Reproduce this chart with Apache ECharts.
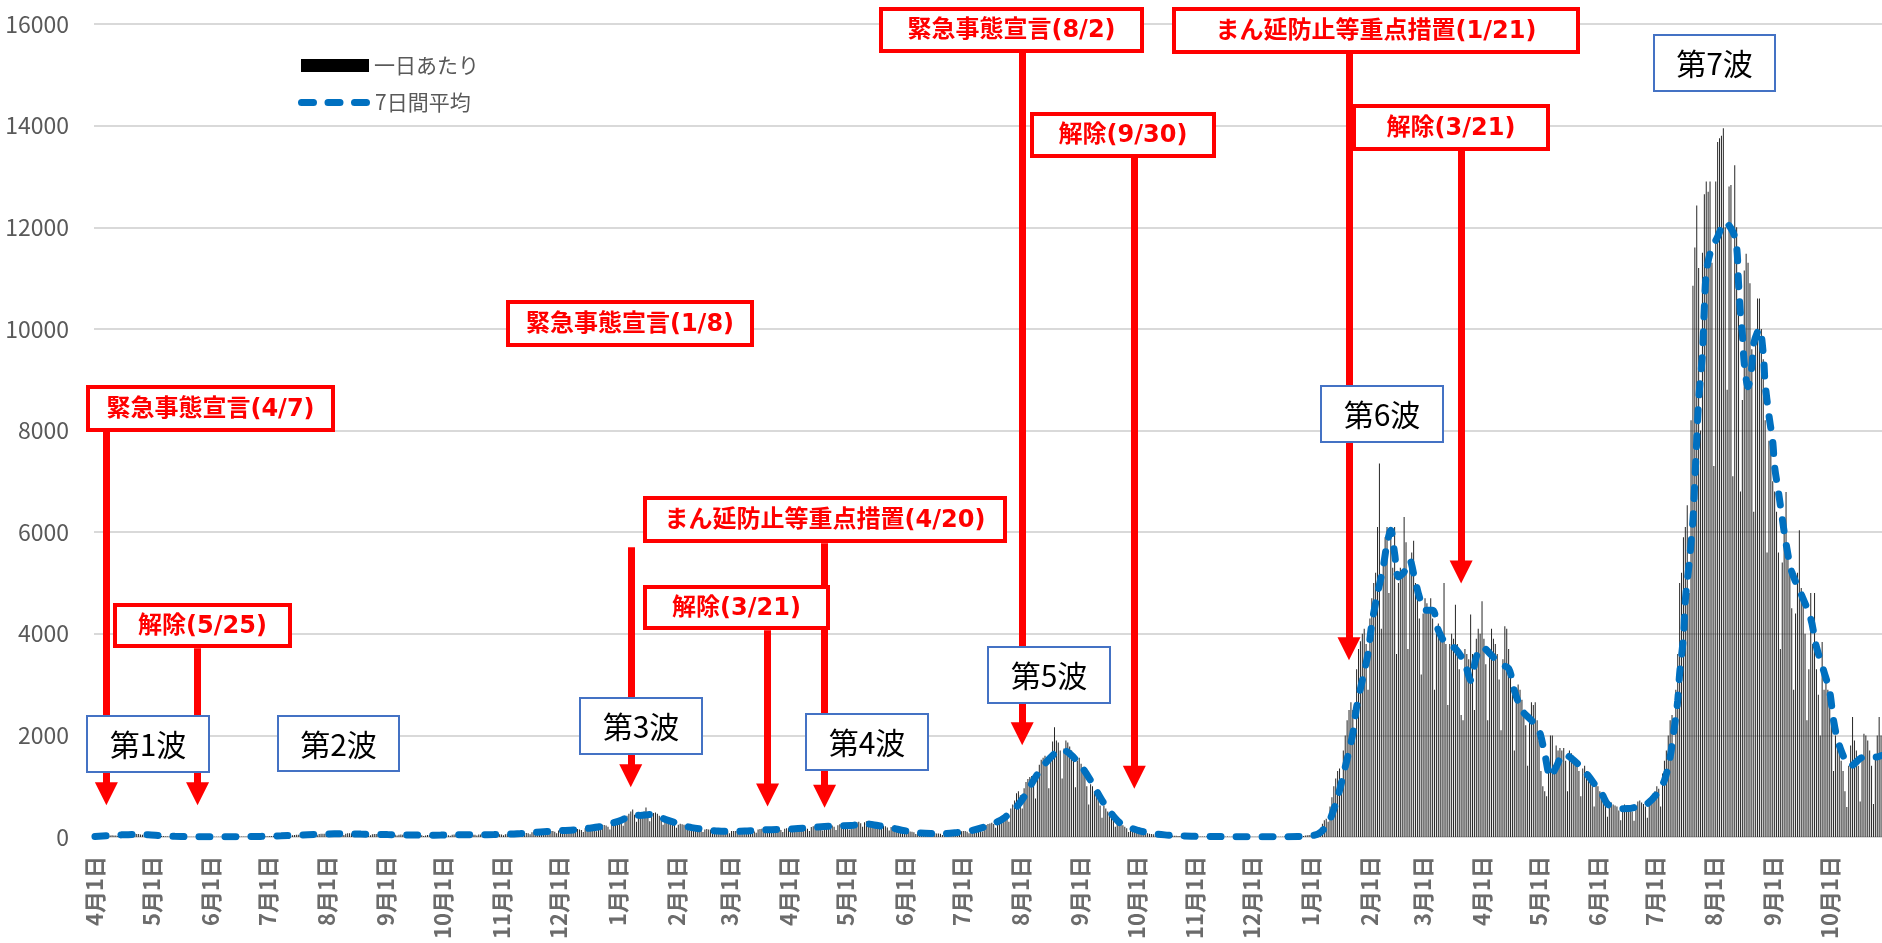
<!DOCTYPE html>
<html lang="ja">
<head>
<meta charset="utf-8">
<title>新規陽性者数の推移</title>
<script src="https://cdn.jsdelivr.net/npm/echarts@6.0.0/dist/echarts.min.js"></script>
<style>
  html, body { margin: 0; padding: 0; background: #ffffff; }
  #chart { width: 1882px; height: 943px; }
</style>
</head>
<body>
<div id="chart"></div>
<script>
// ---- Daily new cases, one array per month (2020-04-01 .. 2022-10-28) ----
const apr2020 = [8,10,12,9,14,7,20,25,30,33,28,30,18,42,50,46,55,52,48,30,58,62,60,57,50,44,28,48,45,40];
const may2020 = [36,30,26,15,22,20,18,16,14,12,6,11,12,10,9,8,7,3,6,7,6,5,4,5,2,4,6,5,7,4,3];
const jun2020 = [2,4,6,5,6,4,5,3,6,7,5,8,6,7,4,8,9,10,8,9,7,5,11,12,14,13,12,10,7,15];
const jul2020 = [17,19,22,20,18,12,24,28,32,30,29,26,18,36,40,42,44,40,35,24,48,54,56,52,55,47,32,60,64,66,62];
const aug2020 = [60,55,38,64,70,72,68,66,60,40,66,72,74,70,64,58,36,60,66,64,62,58,52,34,56,60,58,56,52,46,30];
const sep2020 = [52,54,52,50,48,42,28,46,48,46,44,42,38,24,40,42,44,40,38,34,22,30,38,40,38,36,32,22,40,44];
const oct2020 = [44,42,40,36,24,44,48,48,46,44,40,26,46,50,52,50,46,42,28,48,50,52,50,48,42,30,50,54,56,54,52];
const nov2020 = [48,34,56,62,64,66,62,58,42,72,78,82,84,80,74,52,92,100,104,102,98,88,62,108,118,124,120,116,104,74];
const dec2020 = [128,136,142,138,132,120,84,144,156,160,158,150,136,96,170,186,192,188,180,162,112,210,232,240,236,226,204,150,280,310,330];
const jan2021 = [310,300,280,220,380,420,460,500,540,440,300,420,470,480,500,580,460,310,430,470,480,460,420,380,240,340,360,350,330,310,270];
const feb2021 = [180,240,260,250,240,230,200,130,190,200,196,190,180,160,100,150,156,150,144,138,120,80,126,128,124,120,116,104];
const mar2021 = [72,116,120,118,116,112,100,74,124,130,132,128,124,110,86,150,158,160,154,150,132,92,150,160,162,158,150,136,96,160,170];
const apr2021 = [172,168,162,146,108,180,192,196,190,184,164,118,196,210,214,206,200,180,130,220,236,240,232,224,200,140,232,250,254,246];
const may2021 = [236,210,150,200,210,240,290,300,270,200,290,310,300,280,260,230,160,240,250,236,222,210,186,130,196,200,186,170,160,140,96];
const jun2021 = [140,132,120,110,104,92,60,90,88,84,80,76,70,46,74,76,72,70,68,62,40,70,74,76,80,84,80,56,100,110];
const jul2021 = [112,118,116,104,72,136,150,164,172,176,160,110,210,236,256,268,280,256,180,330,380,410,430,460,420,300,560,640,720,860,900];
const aug2021 = [820,560,960,1080,1140,1180,1200,1100,760,1260,1420,1520,1560,1600,1420,960,1640,1880,2160,1900,1860,1700,1150,1740,1900,1860,1780,1700,1500,980,1500];
const sep2021 = [1560,1440,1300,1200,1000,640,1040,1000,900,820,740,620,380,620,560,500,440,400,330,200,280,300,260,230,200,170,100,160,150,130];
const oct2021 = [110,96,80,50,84,80,74,66,60,52,30,50,48,44,40,36,30,18,30,28,26,24,22,18,10,18,17,16,15,14,12];
const nov2021 = [5,11,10,12,10,9,8,4,9,10,8,9,7,6,3,8,7,9,6,7,5,3,6,7,8,6,5,4,2,6];
const dec2021 = [5,6,4,5,4,2,5,6,5,4,6,3,2,5,6,7,6,8,6,4,9,11,12,14,16,14,10,22,28,34,40];
const jan2022 = [36,40,50,90,140,180,260,330,360,300,600,780,1000,1150,1300,1350,1100,1700,2000,2300,2500,2650,2500,2000,3300,3700,3850,4000,4100,3800,2900];
const feb2022 = [4300,4700,5000,5200,6100,7350,4100,5600,5900,6100,4800,6000,5300,6100,3600,5000,5300,5200,6300,5800,3700,5400,5600,5830,5000,4800,4300,3200];
const mar2022 = [4400,4700,4600,4500,4700,4300,2900,4000,4200,4100,3900,5000,3800,2600,3800,4000,3900,4570,3800,3300,2400,2300,3700,3600,3500,4380,3600,2500,3900,4100,4000];
const apr2022 = [4640,3900,3400,2300,3700,4100,3900,3800,3600,3100,2100,3500,4150,4100,3700,3300,2800,1700,2800,3000,2900,2700,2500,2200,1400,2400,2650,2600,2650,2300];
const may2022 = [1900,1300,1000,900,800,1500,2000,2000,1300,1800,1700,1750,1700,1750,1500,900,1700,1650,1600,1500,1450,1300,800,1350,1400,1300,1250,1150,1000,600,1050];
const jun2022 = [1000,900,800,750,650,400,700,680,640,620,600,520,330,600,640,620,600,580,500,320,620,700,720,680,650,600,380,720,800,850];
const jul2022 = [900,1000,950,600,1250,1500,1700,2000,2300,2400,1800,2900,3600,5000,5200,5900,6100,6530,4800,8200,10850,11600,12430,11200,8000,11500,12650,12900,12700,12900,11300];
const aug2022 = [7300,12900,13680,13750,13800,13950,12000,8800,12800,12830,7100,13220,12000,10500,6800,8600,11150,11480,11300,10900,9600,6400,9800,10600,10600,10000,9400,8200,5600,7800,7600];
const sep2022 = [7000,6800,6400,5600,3700,5400,6000,6790,5500,5200,4500,2900,4400,5200,6037,4900,4600,4000,2300,3300,4800,3800,4800,3300,2800,2000,3838,2900,3200,2900];
const oct2022 = [2600,2200,1300,2000,1800,1700,1500,1300,900,590,1400,1800,2360,1900,1700,1400,700,1600,2034,2000,1900,1700,1400,650,1600,2000,2360,2000];

// ---- 7-day average, read at these dates ----
const avgDates = [
  '2020-04-01','2020-04-08','2020-04-15','2020-04-22','2020-04-29','2020-05-06','2020-05-13','2020-05-20','2020-05-27',
  '2020-06-03','2020-06-10','2020-06-17','2020-06-24','2020-07-01','2020-07-08','2020-07-15','2020-07-22','2020-07-29',
  '2020-08-05','2020-08-12','2020-08-19','2020-08-26','2020-09-02','2020-09-09','2020-09-16','2020-09-23','2020-09-30',
  '2020-10-07','2020-10-14','2020-10-21','2020-10-28','2020-11-04','2020-11-11','2020-11-18','2020-11-25',
  '2020-12-02','2020-12-09','2020-12-16','2020-12-23','2020-12-30',
  '2021-01-03','2021-01-07','2021-01-10','2021-01-13','2021-01-17','2021-01-20','2021-01-23','2021-01-26','2021-01-30',
  '2021-02-02','2021-02-09','2021-02-16','2021-02-23','2021-03-02','2021-03-09','2021-03-16','2021-03-23','2021-03-30',
  '2021-04-06','2021-04-13','2021-04-20','2021-04-27','2021-05-04','2021-05-11','2021-05-18','2021-05-25',
  '2021-06-01','2021-06-08','2021-06-15','2021-06-22','2021-06-29','2021-07-06','2021-07-13','2021-07-20','2021-07-24','2021-07-30',
  '2021-08-04','2021-08-09','2021-08-14','2021-08-19','2021-08-23','2021-08-28','2021-09-03','2021-09-08','2021-09-13',
  '2021-09-18','2021-09-23','2021-10-02','2021-10-09','2021-10-16','2021-10-23','2021-10-30','2021-11-06','2021-11-13',
  '2021-11-20','2021-11-27','2021-12-04','2021-12-11','2021-12-18','2021-12-25',
  '2022-01-01','2022-01-05','2022-01-10','2022-01-15','2022-01-19','2022-01-23','2022-01-25','2022-01-28','2022-01-31',
  '2022-02-02','2022-02-05','2022-02-08','2022-02-10','2022-02-12','2022-02-14','2022-02-16','2022-02-19','2022-02-22',
  '2022-02-24','2022-02-27','2022-03-02','2022-03-06','2022-03-09','2022-03-13','2022-03-18','2022-03-23','2022-03-26',
  '2022-03-29','2022-04-01','2022-04-06','2022-04-10','2022-04-15','2022-04-18','2022-04-22','2022-04-27','2022-05-01',
  '2022-05-04','2022-05-07','2022-05-10','2022-05-14','2022-05-18','2022-05-23','2022-05-27','2022-05-31','2022-06-03',
  '2022-06-06','2022-06-09','2022-06-13','2022-06-17','2022-06-21','2022-06-27','2022-07-02','2022-07-06','2022-07-09',
  '2022-07-11','2022-07-13','2022-07-14','2022-07-16','2022-07-17','2022-07-19','2022-07-21','2022-07-22','2022-07-23',
  '2022-07-24','2022-07-26','2022-07-27','2022-07-28','2022-07-30','2022-08-03','2022-08-07','2022-08-11','2022-08-13',
  '2022-08-14','2022-08-15','2022-08-16','2022-08-17','2022-08-19','2022-08-21','2022-08-22','2022-08-25','2022-08-27',
  '2022-08-28','2022-08-30','2022-09-01','2022-09-02','2022-09-04','2022-09-06','2022-09-08','2022-09-11','2022-09-16',
  '2022-09-21','2022-09-24','2022-09-28','2022-10-01','2022-10-03','2022-10-06','2022-10-12','2022-10-19','2022-10-26','2022-10-28'
];
const avgValues = [
  10,25,42,52,45,26,13,7,5,
  5,6,7,10,15,24,34,45,55,
  62,64,58,52,47,43,39,35,37,
  42,45,46,48,54,68,88,108,
  125,140,168,205,280,
  330,400,430,425,440,445,405,350,300,
  250,185,145,118,110,116,135,145,150,
  168,185,205,220,225,262,225,180,
  125,82,68,66,90,125,195,300,390,590,
  853,1180,1443,1640,1719,1607,1345,1050,720,
  459,262,130,72,42,26,16,10,8,
  7,6,5,5,6,11,
  25,65,262,787,1378,2034,2560,3084,3610,
  4200,4790,5316,5775,6037,5578,5119,5217,5447,
  5184,4725,4462,4462,4068,3806,3708,3412,3084,
  3544,3741,3577,3412,3314,2887,2493,2296,2099,
  1640,1181,1378,1640,1550,1378,1200,1000,853,
  650,600,557,560,590,656,853,1115,1575,
  2099,2690,3216,3938,4659,5381,6234,7022,7810,
  8597,9516,10435,11091,11485,11813,12100,11911,11616,
  10900,10300,9910,9319,8860,9254,9713,10000,9516,
  8925,8300,7776,7285,6792,6267,5775,5218,4777,
  4298,3741,3249,2855,2296,1804,1398,1575,1575,1600
];

// ---- Policy events and wave names ----
const eventLabels = ['緊急事態宣言(4/7)','解除(5/25)','緊急事態宣言(1/8)','解除(3/21)','まん延防止等重点措置(4/20)',
                     '緊急事態宣言(8/2)','解除(9/30)','まん延防止等重点措置(1/21)','解除(3/21)'];
const eventDates = ['2020-04-07','2020-05-25','2021-01-08','2021-03-21','2021-04-20',
                    '2021-08-02','2021-09-30','2022-01-21','2022-03-21'];
const waveLabels = ['第1波','第2波','第3波','第4波','第5波','第6波','第7波'];

// ---- Layout: callout boxes [left, top, width, height] and arrow spans on the value axis ----
const eventBoxes = [
  [86,385,249,47],[113,603,179,45],[506,300,248,47],[643,585,187,45],[643,496,364,47],
  [879,7,265,46],[1030,112,186,46],[1172,7,408,47],[1352,104,198,47]
];
const arrowFrom = [7970,3713,5702,4068,5781,15429,13362,15410,13500];
const arrowTo   = [849,849,1203,829,803,2030,1177,3704,5214];
const waveBoxes = [
  [86,715,124,58],[277,715,123,57],[579,697,124,58],[805,713,124,58],
  [987,646,124,58],[1320,385,124,58],[1653,34,123,58]
];

// ---- Build the day categories ----
const dailyCases = [].concat(apr2020, may2020, jun2020, jul2020, aug2020, sep2020, oct2020, nov2020, dec2020,
  jan2021, feb2021, mar2021, apr2021, may2021, jun2021, jul2021, aug2021, sep2021, oct2021, nov2021, dec2021,
  jan2022, feb2022, mar2022, apr2022, may2022, jun2022, jul2022, aug2022, sep2022, oct2022);
const firstDay = Date.UTC(2020, 3, 1);
const dayDates = dailyCases.map((_, i) => new Date(firstDay + i * 86400000).toISOString().slice(0, 10));
const avgPoints = avgDates.map((d, i) => [d, avgValues[i]]);

const isMonthStart = (idx, value) => value.slice(8) === '01';
const monthDayLabel = (value) => {
  const p = value.split('-');
  return (+p[1]) + '月' + (+p[2]) + '日';
};

const JP_FONT = '"Noto Sans CJK JP", "Noto Sans", sans-serif';
const RED = '#ff0000';
const BLUE = '#0070c0';

// three rounded dashes, used as the legend key of the average line
const dashIcon = 'path://M3.5,0H15.5A3.5,3.5,0,0,1,15.5,7H3.5A3.5,3.5,0,0,1,3.5,0Z' +
  'M30,0H42A3.5,3.5,0,0,1,42,7H30A3.5,3.5,0,0,1,30,0Z' +
  'M56.5,0H68.5A3.5,3.5,0,0,1,68.5,7H56.5A3.5,3.5,0,0,1,56.5,0Z';

function calloutBox(rect, text, opts) {
  const lw = opts.lineWidth;
  return {
    type: 'group',
    z: 100,
    silent: true,
    children: [
      {
        type: 'rect',
        z: 100,
        shape: { x: rect[0] + lw / 2, y: rect[1] + lw / 2, width: rect[2] - lw, height: rect[3] - lw },
        style: { fill: '#ffffff', stroke: opts.stroke, lineWidth: lw }
      },
      {
        type: 'text',
        z: 101,
        x: rect[0] + rect[2] / 2,
        y: rect[1] + rect[3] / 2 + (opts.dy || 0),
        style: {
          text: text,
          fill: opts.color,
          font: opts.font,
          align: 'center',
          verticalAlign: 'middle',
          textAlign: 'center',
          textVerticalAlign: 'middle'
        }
      }
    ]
  };
}

const graphics = [];
eventBoxes.forEach((r, i) => graphics.push(calloutBox(r, eventLabels[i], {
  lineWidth: 4, stroke: RED, color: RED, font: 'bold 24px "DejaVu Sans", "Noto Sans CJK JP", sans-serif', dy: 1
})));
waveBoxes.forEach((r, i) => graphics.push(calloutBox(r, waveLabels[i], {
  lineWidth: 2, stroke: '#4472c4', color: '#000000', font: '30px "Noto Sans CJK JP", sans-serif', dy: 1
})));

const chart = echarts.init(document.getElementById('chart'), null, { renderer: 'canvas' });

const legendText = { fontSize: 21, color: '#595959', fontFamily: JP_FONT };

chart.setOption({
  animation: false,
  backgroundColor: '#ffffff',
  textStyle: { fontFamily: JP_FONT },
  grid: { left: 94, right: 0, top: 24, bottom: 106 },
  legend: [
    {
      left: 296, top: 50, orient: 'vertical',
      itemWidth: 68, itemHeight: 13, selectedMode: false,
      textStyle: legendText,
      data: [{ name: '一日あたり', icon: 'rect', itemStyle: { color: '#000000' } }]
    },
    {
      left: 293, top: 87, orient: 'vertical',
      itemWidth: 72, itemHeight: 7, selectedMode: false,
      textStyle: legendText,
      data: [{ name: '7日間平均', icon: dashIcon, itemStyle: { color: BLUE, borderWidth: 0 }, lineStyle: { width: 0 } }]
    }
  ],
  xAxis: {
    type: 'category',
    data: dayDates,
    boundaryGap: true,
    axisLine: { lineStyle: { color: '#d9d9d9', width: 2 } },
    axisTick: {
      alignWithLabel: true,
      interval: isMonthStart,
      length: 7,
      lineStyle: { color: '#d9d9d9', width: 2 }
    },
    axisLabel: {
      interval: isMonthStart,
      formatter: monthDayLabel,
      rotate: 90,
      margin: 19,
      fontSize: 22,
      fontWeight: 'bold',
      color: '#6b6b6b',
      fontFamily: JP_FONT
    },
    splitLine: { show: false }
  },
  yAxis: {
    type: 'value',
    min: 0,
    max: 16000,
    interval: 2000,
    axisLine: { show: false },
    axisTick: { show: false },
    axisLabel: { fontSize: 23, color: '#595959', margin: 25, fontFamily: JP_FONT, formatter: (v) => String(v) },
    splitLine: { lineStyle: { color: '#d9d9d9', width: 2 } }
  },
  series: [
    {
      name: '一日あたり',
      type: 'bar',
      data: dailyCases,
      barWidth: 0.75,
      itemStyle: { color: '#262626' },
      silent: true
    },
    {
      name: '7日間平均',
      type: 'line',
      data: avgPoints,
      smooth: 0.3,
      symbol: 'none',
      silent: true,
      z: 3,
      itemStyle: { color: BLUE },
      lineStyle: { color: BLUE, width: 7, type: [11, 15], cap: 'round' },
      markLine: {
        silent: true,
        symbol: ['none', 'triangle'],
        symbolSize: 23,
        label: { show: false },
        lineStyle: { color: RED, width: 7, type: 'solid', opacity: 1 },
        emphasis: { disabled: true },
        data: eventDates.map((d, i) => [
          { coord: [d, arrowFrom[i]] },
          { coord: [d, arrowTo[i]] }
        ])
      }
    }
  ],
  graphic: graphics
});
</script>
</body>
</html>
